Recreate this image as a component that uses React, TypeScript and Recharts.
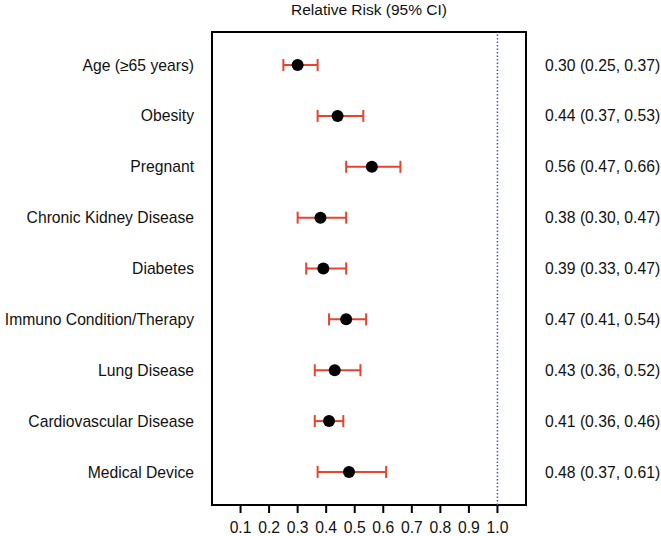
import {
  ScatterChart,
  Scatter,
  XAxis,
  YAxis,
  ErrorBar,
  ReferenceLine,
  ReferenceArea,
} from "recharts";

const conditions = [
  "Age (≥65 years)",
  "Obesity",
  "Pregnant",
  "Chronic Kidney Disease",
  "Diabetes",
  "Immuno Condition/Therapy",
  "Lung Disease",
  "Cardiovascular Disease",
  "Medical Device",
];
const relRisk = [0.3, 0.44, 0.56, 0.38, 0.39, 0.47, 0.43, 0.41, 0.48];
const ciLow = [0.25, 0.37, 0.47, 0.3, 0.33, 0.41, 0.36, 0.36, 0.37];
const ciHigh = [0.37, 0.53, 0.66, 0.47, 0.47, 0.54, 0.52, 0.46, 0.61];
const xTicks = [0.1, 0.2, 0.3, 0.4, 0.5, 0.6, 0.7, 0.8, 0.9, 1.0];

const FONT = "'Liberation Sans', Arial, sans-serif";
const RED = "#e8432e";
const FS = 15.7;

const rows = conditions.map((name, i) => ({
  name,
  row: i + 1,
  rr: relRisk[i],
  err: [relRisk[i] - ciLow[i], ciHigh[i] - relRisk[i]],
  label: `${relRisk[i].toFixed(2)} (${ciLow[i].toFixed(2)}, ${ciHigh[i].toFixed(2)})`,
}));

const rowTicks = rows.map((r) => r.row);
const Y_DOMAIN: [number, number] = [0.35, 9.65];

export default function App() {
  return (
    <div style={{ position: "absolute", left: 0, top: 0, width: 661, height: 536, fontFamily: FONT }}>
      <div
        style={{
          position: "absolute",
          left: 212,
          width: 314,
          top: 1,
          textAlign: "center",
          fontSize: 15.5,
          color: "#111",
        }}
      >
        Relative Risk (95% CI)
      </div>
      <ScatterChart
        width={661}
        height={536}
        margin={{ top: 32, right: 0, bottom: 0, left: 0 }}
        style={{ fontFamily: FONT }}
      >
        <XAxis
          type="number"
          dataKey="rr"
          domain={[0, 1.1]}
          ticks={xTicks}
          tickFormatter={(v: number) => v.toFixed(1)}
          height={31}
          axisLine={false}
          tickLine={{ stroke: "#000", strokeWidth: 2 }}
          tickSize={8}
          tickMargin={7}
          tick={{ fill: "#111", fontSize: FS, dy: 1.5 }}
          interval={0}
        />
        <YAxis
          yAxisId="left"
          type="number"
          dataKey="row"
          domain={Y_DOMAIN}
          ticks={rowTicks}
          reversed
          width={212}
          axisLine={false}
          tickLine={false}
          tickSize={0}
          tickMargin={18}
          interval={0}
          tick={{ fill: "#111", fontSize: FS }}
          tickFormatter={(v: number) => conditions[v - 1] ?? ""}
        />
        <YAxis
          yAxisId="right"
          orientation="right"
          type="number"
          dataKey="row"
          domain={Y_DOMAIN}
          ticks={rowTicks}
          reversed
          width={135}
          axisLine={false}
          tickLine={false}
          tickSize={0}
          tickMargin={19}
          interval={0}
          tick={{ fill: "#111", fontSize: FS }}
          tickFormatter={(v: number) => rows[v - 1]?.label ?? ""}
        />
        <ReferenceArea
          yAxisId="left"
          x1={0}
          x2={1.1}
          y1={Y_DOMAIN[0]}
          y2={Y_DOMAIN[1]}
          fill="none"
          fillOpacity={0}
          stroke="#000"
          strokeWidth={2}
        />
        <ReferenceLine
          yAxisId="left"
          x={1}
          stroke="#3a56d4"
          strokeWidth={1.5}
          strokeDasharray="1.5 2"
        />
        <Scatter
          yAxisId="right"
          data={rows}
          isAnimationActive={false}
          shape={() => <g />}
        />
        <Scatter
          yAxisId="left"
          data={rows}
          isAnimationActive={false}
          shape={(p: any) => <circle cx={p.cx} cy={p.cy} r={6} fill="#000" />}
        >
          <ErrorBar
            dataKey="err"
            direction="x"
            width={6}
            stroke={RED}
            strokeWidth={2}
            isAnimationActive={false}
          />
        </Scatter>
      </ScatterChart>
    </div>
  );
}
